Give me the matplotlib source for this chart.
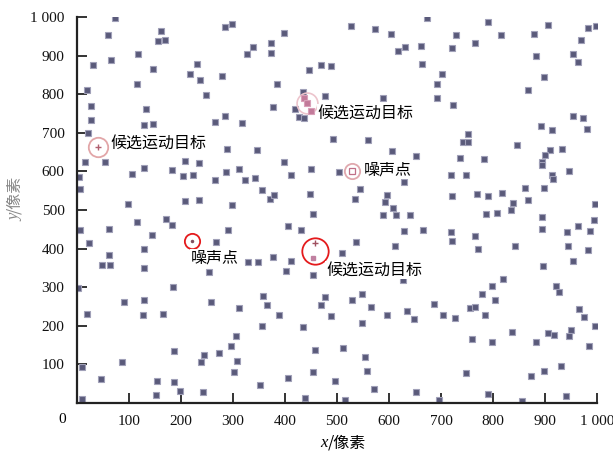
import matplotlib
matplotlib.use('Agg')
import matplotlib.pyplot as plt

plt.rcParams['font.family'] = ['Liberation Serif', 'Noto Sans CJK SC', 'DejaVu Sans']

# background detections (pixel coordinates of the image)
xs = [74, 60, 162, 155, 169, 118, 31, 65, 230, 217, 237, 146, 115, 19, 249, 27, 133, 27, 128, 147,
      22, 15, 54, 208, 235, 128, 105, 182, 203, 223, 3, 6, 99, 208, 235,
      285, 299, 398, 339, 326, 373, 373, 278, 447, 469, 489, 385, 435, 476, 419, 426, 437, 376,
      285, 265, 317, 493, 288, 347, 398, 286, 312, 265, 323, 342, 411, 450, 355, 371, 378, 448, 298,
      527, 573, 603, 673, 618, 631, 662, 721, 728, 664, 701, 692, 692, 724, 588, 560, 743, 606,
      652, 737, 503, 628, 544, 719, 748, 535, 596, 592, 608, 722,
      790, 815, 765, 906, 879, 982, 998, 969, 882, 953, 963, 899, 868, 954, 974, 892, 913, 980,
      751, 751, 846, 910, 900, 894, 895, 932, 914, 916, 946, 783, 862, 898, 769, 791, 818, 868,
      839, 834, 996,
      115, 171, 182, 6, 62, 144, 23, 129, 62, 48, 64, 129, 184, 1, 90, 129, 19, 126, 166, 187,
      86, 10, 239, 245, 46, 153, 187, 198, 152, 243, 9,
      453, 290, 405, 430, 267, 349, 329, 376, 411, 402, 253, 453, 357, 365, 477, 469, 258, 312,
      389, 489, 435, 356, 305, 296, 273, 458, 308, 301, 453, 406, 496, 352, 439,
      588, 614, 640, 629, 666, 719, 722, 537, 612, 510, 626, 548, 529, 565, 596, 634, 648, 687,
      703, 727, 549, 512, 553, 557, 572, 651, 515, 748, 697,
      787, 808, 895, 895, 942, 964, 987, 995, 765, 772, 842, 944, 982, 953, 897, 820, 799, 779,
      803, 921, 927, 756, 765, 785, 966, 975, 996, 836, 906, 918, 950, 947, 760, 799, 883, 985,
      874, 899, 931, 791, 855, 940]
ys = [999, 955, 965, 938, 941, 906, 876, 890, 880, 852, 837, 866, 828, 811, 798, 770, 763, 733, 720, 724,
      701, 625, 625, 627, 623, 610, 593, 603, 588, 592, 586, 555, 515, 524, 527,
      975, 982, 960, 923, 906, 934, 908, 847, 864, 877, 874, 826, 807, 796, 763, 742, 739, 768,
      744, 729, 727, 685, 658, 655, 625, 599, 606, 577, 577, 584, 590, 606, 551, 529, 538, 542, 512,
      978, 969, 958, 999, 912, 923, 926, 921, 954, 878, 854, 828, 791, 772, 791, 681, 677, 653,
      640, 636, 599, 573, 555, 590, 592, 529, 538, 521, 505, 536,
      988, 954, 935, 981, 958, 973, 978, 941, 900, 906, 884, 846, 811, 743, 739, 718, 707, 711,
      698, 677, 670, 655, 644, 625, 616, 658, 590, 581, 601, 633, 558, 558, 541, 536, 544, 525,
      519, 500, 515,
      469, 477, 460, 449, 451, 434, 414, 400, 382, 356, 356, 349, 300, 297, 260, 266, 230, 228, 230, 133,
      105, 91, 104, 124, 62, 55, 53, 31, 19, 27, 10,
      490, 447, 459, 447, 416, 364, 364, 377, 367, 341, 338, 330, 277, 254, 273, 253, 261, 246,
      227, 224, 195, 198, 174, 148, 129, 137, 109, 78, 79, 64, 55, 46, 12,
      486, 486, 486, 445, 447, 443, 419, 416, 407, 388, 317, 282, 267, 247, 226, 237, 217, 257,
      226, 220, 207, 142, 117, 81, 35, 27, 7, 77, 6,
      490, 492, 482, 451, 443, 458, 446, 473, 432, 400, 406, 406, 395, 367, 355, 322, 302, 282,
      267, 302, 286, 246, 248, 227, 244, 222, 198, 183, 181, 176, 189, 172, 165, 157, 157, 146,
      68, 81, 94, 22, 3, 16]

# marked objects
cand_x = [40, 442, 458]
cand_y = [664, 778, 393]
noise_x = [528, 221]
noise_y = [600, 419]

fig = plt.figure(figsize=(6.13, 4.54), dpi=100)
ax = fig.add_axes([0.1256, 0.1134, 0.8483, 0.8481])

ax.plot(xs, ys, 's', ms=4.4, mfc='#5a5a7a', mec='#a0a0b8', mew=0.8, ls='none')

# circles around candidates / noise
ax.plot(cand_x[0], cand_y[0], 'o', ms=14, mfc='none', mec='#e2a6a8', mew=1.3)
ax.plot(cand_x[0], cand_y[0], '+', ms=5, color='#b06070', mew=1)
ax.plot(cand_x[1], cand_y[1], 'o', ms=15, mfc='none', mec='#ecc4cc', mew=1.2)
ax.plot([cand_x[1] - 6, cand_x[1], cand_x[1] + 8], [cand_y[1] + 12, cand_y[1], cand_y[1] - 20], 's',
        ms=4, mfc='#c27a9a', mec='#d9a0b8', mew=0.8)
ax.plot(cand_x[2], cand_y[2], 'o', ms=19, mfc='none', mec='#e41a1c', mew=1.3)
ax.plot(cand_x[2], cand_y[2] + 20, '+', ms=5, color='#a05060', mew=1)
ax.plot(cand_x[2] - 4, cand_y[2] - 18, 's', ms=3, color='#c080a0')
ax.plot(noise_x[0], noise_y[0], 'o', ms=11, mfc='none', mec='#e0a8ae', mew=1.3)
ax.plot(noise_x[0], noise_y[0], 's', ms=4, mfc='none', mec='#c07088', mew=0.9)
ax.plot(noise_x[1], noise_y[1], 'o', ms=11, mfc='none', mec='#e41a1c', mew=1.3)
ax.plot(noise_x[1], noise_y[1], '.', ms=3, color='#805060')

lab = dict(fontsize=11.5, family=['Noto Sans CJK SC', 'DejaVu Sans'], va='center', ha='left',
           bbox=dict(fc='white', ec='none', pad=0.5))
ax.text(65, 674, '候选运动目标', **lab)
ax.text(463, 752, '候选运动目标', **lab)
ax.text(552, 604, '噪声点', **lab)
ax.text(219, 375, '噪声点', **lab)
ax.text(479, 344, '候选运动目标', **lab)

ax.set_xlim(0, 1000)
ax.set_ylim(0, 1000)
ticks = list(range(100, 1001, 100))
ax.set_xticks(ticks)
ax.set_yticks(ticks)
ax.set_xticklabels(['1 000' if t == 1000 else str(t) for t in ticks])
ax.set_yticklabels(['1 000' if t == 1000 else str(t) for t in ticks])
ax.tick_params(direction='in', length=7, width=1.2, labelsize=11, pad=9, colors='#111111')
for s in ['top', 'right']:
    ax.spines[s].set_visible(False)
for s in ['left', 'bottom']:
    ax.spines[s].set_linewidth(1.6)
    ax.spines[s].set_color('#222222')

ax.text(-0.029, -0.045, '0', transform=ax.transAxes, ha='center', va='center', fontsize=11)

# axis titles: italic variable + "/像素"
fig.text(328 / 613, 1 - 443 / 454, 'x', ha='right', va='center', fontsize=12,
         style='italic', family='Liberation Serif')
fig.text(328 / 613, 1 - 443 / 454, '/像素', ha='left', va='center', fontsize=11.5,
         family=['Noto Sans CJK SC', 'DejaVu Sans'])
fig.text(15 / 613, 1 - 214 / 454, 'y', ha='center', va='top', fontsize=12, rotation=90,
         style='italic', family='Liberation Serif', color='#888888')
fig.text(15 / 613, 1 - 214 / 454, '/像素', ha='center', va='bottom', fontsize=11.5, rotation=90,
         family=['Noto Sans CJK SC', 'DejaVu Sans'], color='#888888')

fig.savefig('out.png', dpi=100)
